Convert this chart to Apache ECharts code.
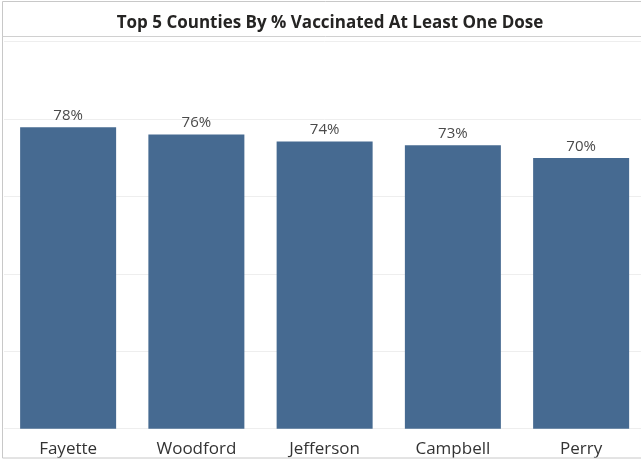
<!DOCTYPE html>
<html>
<head>
<meta charset="utf-8">
<script src="https://cdn.jsdelivr.net/npm/echarts@6/dist/echarts.min.js"></script>
<style>
html,body{margin:0;padding:0;background:#fff;overflow:hidden;}
#c{width:648px;height:461px;}
</style>
</head>
<body>
<div id="c"></div>
<script>
var titleText = "Top 5 Counties By % Vaccinated At Least One Dose";
var categories = ["Fayette", "Woodford", "Jefferson", "Campbell", "Perry"];
var pctVaccinated = [77.9, 76.0, 74.2, 73.2, 69.9];
var yTicks = [0, 20, 40, 60, 80, 100];

var chart = echarts.init(document.getElementById('c'), null, {renderer: 'canvas'});
chart.setOption({
  animation: false,
  backgroundColor: '#ffffff',
  title: {
    text: titleText,
    left: 325, top: 10, textAlign: 'center',
    textStyle: {fontFamily: 'Open Sans', fontWeight: 'bold', fontSize: 17, color: '#252423'}
  },
  graphic: [
    {type: 'rect', shape: {x: 2.5, y: 1.5, width: 660, height: 456.5}, style: {fill: 'none', stroke: '#c8c8c8', lineWidth: 1}, z: 100},
    {type: 'line', shape: {x1: 2.5, y1: 36.5, x2: 648, y2: 36.5}, style: {stroke: '#d0d0d0', lineWidth: 1}, z: 100}
  ],
  grid: {left: 4, width: 641.25, top: 41.6, bottom: 32.3, containLabel: false},
  xAxis: {
    type: 'category',
    data: categories,
    axisLine: {show: false},
    axisTick: {show: false},
    axisLabel: {fontFamily: 'Open Sans', fontSize: 17, color: '#333333', margin: 12}
  },
  yAxis: {
    type: 'value',
    min: yTicks[0], max: yTicks[yTicks.length - 1], interval: 20,
    axisLabel: {show: false},
    axisLine: {show: false},
    axisTick: {show: false},
    splitLine: {lineStyle: {color: '#eeeeee', width: 1}}
  },
  series: [{
    type: 'bar',
    data: pctVaccinated,
    barWidth: 96,
    itemStyle: {color: '#466a91'},
    label: {
      show: true, position: 'top', distance: 4,
      fontFamily: 'Open Sans', fontSize: 15, color: '#4a4a4a',
      formatter: function (p) { return Math.round(p.value) + '%'; }
    }
  }]
});
</script>
</body>
</html>
